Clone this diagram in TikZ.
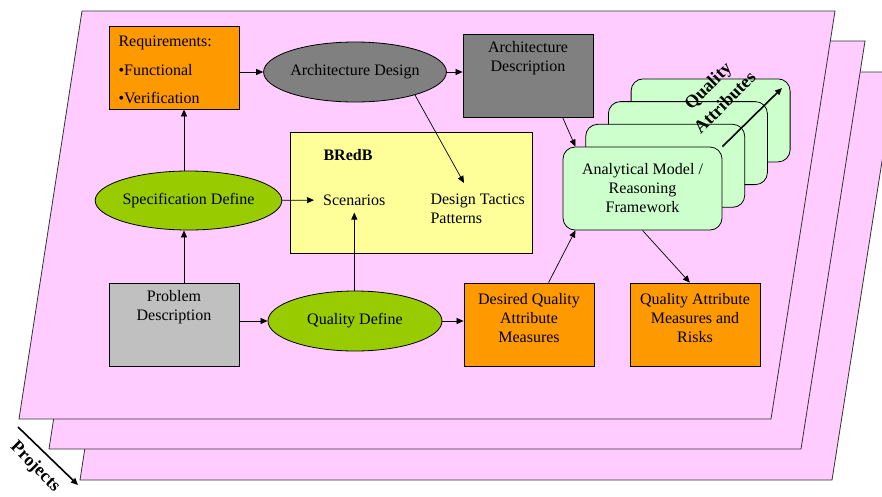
\documentclass[tikz,border=0pt]{standalone}
\usepackage{fontspec}
\setmainfont{Liberation Serif}
\usetikzlibrary{positioning,arrows.meta,shapes.geometric}

\definecolor{pagepink}{HTML}{FFCCFF}
\definecolor{boxorange}{HTML}{FF9900}
\definecolor{archgray}{HTML}{808080}
\definecolor{probgray}{HTML}{C0C0C0}
\definecolor{bredbyellow}{HTML}{FFFF99}
\definecolor{specgreen}{HTML}{99CC00}
\definecolor{cardgreen}{HTML}{CCFFCC}

\begin{document}
\begin{tikzpicture}[x=1pt,y=-1pt,>={Triangle[length=7pt,width=6pt]},
	every node/.style={font=\fontsize{16}{19}\selectfont},
	page/.style={draw=black!80,fill=pagepink,line width=0.8pt},
	plainbox/.style={draw,line width=0.8pt,minimum width=130pt,minimum height=83pt,inner sep=0pt},
	oval/.style={draw,line width=0.8pt,ellipse,minimum width=174pt,minimum height=60pt,inner sep=0pt},
	card/.style={draw,line width=0.8pt,rounded corners=12pt,fill=cardgreen,minimum width=159pt,minimum height=83pt,align=center},
	link/.style={->,line width=0.7pt},
	bigtext/.style={font=\bfseries\fontsize{18}{24}\selectfont,align=center}]
	
	\useasboundingbox (0,0) rectangle (882,496);
	\clip (0,0) rectangle (882,496);
	
	% project pages
	\foreach \d in {61,30,0}
	{
		\draw[page] (82+\d,11+\d) -- (835+\d,11+\d) -- (771+\d,419+\d) -- (19+\d,419+\d) -- cycle;
	}
	
	% stack of analytical models
	\foreach \i in {3,2,1}
	{
		\node[card] (card\i) at (642.5+22.7*\i,188.5-22.7*\i) {};
	}
	\node[card] (anmod) at (642.5,188.5) {Analytical Model /\\Reasoning\\Framework};
	
	\node[plainbox,fill=boxorange] (req) at (174,67.5) {};
	\node[anchor=west,align=left,font=\fontsize{16}{28.7}\selectfont] (reqtext) at (115,70) {Requirements:\\•Functional\\•Verification};
	
	\node[oval,fill=archgray] (archdes) at (355,72) {Architecture Design};
	
	\node[plainbox,fill=archgray] (archdesc) at (528,75.5) {};
	\node[align=center] (archdesctext) at (528,58) {Architecture\\Description};
	
	\node[draw,line width=0.8pt,fill=bredbyellow,minimum width=242pt,minimum height=121pt,inner sep=0pt] (bredb) at (411,192.5) {};
	\node[anchor=west,font=\bfseries\fontsize{16}{19}\selectfont] (bredbtitle) at (320,155) {BRedB};
	\node[anchor=west,inner sep=0pt] (scen) at (323,200) {Scenarios};
	\node[anchor=west,align=left] (dt) at (427,209) {Design Tactics\\Patterns};
	
	\node[oval,fill=specgreen,minimum width=175pt,minimum height=59pt] (specdef) at (188.5,200.5) {Specification Define};
	
	\node[plainbox,fill=probgray] (probdesc) at (174,324.5) {};
	\node[align=center] (probdesctext) at (174,307) {Problem\\Description};
	
	\node[oval,fill=specgreen] (qualdef) at (355,321) {Quality Define};
	
	\node[plainbox,fill=boxorange] (desqam) at (529,324.5) {};
	\node[align=center] (desqamtext) at (529,318) {Desired Quality\\Attribute\\Measures};
	
	\node[plainbox,fill=boxorange] (qamr) at (695,324.5) {};
	\node[align=center] (qamrtext) at (695,318) {Quality Attribute\\Measures and\\Risks};
	
	% free ends
	\coordinate (dttip) at (464,183);
	\coordinate (qatip) at (782,88);
	\coordinate (projstart) at (18,427);
	\coordinate (projtip) at (78,485);
	
	% connectors
	\draw[link] (req.east |- archdes) -- (archdes);
	\draw[link] (archdes) -- (archdes -| archdesc.west);
	\draw[link] ([xshift=-4.5pt]specdef.north) -- ([xshift=-4.5pt]specdef.north |- req.south);
	\draw[link] ([xshift=-4.5pt]specdef.south |- probdesc.north) -- ([xshift=-4.5pt]specdef.south);
	\draw[link,shorten >=9pt] (specdef) -- (scen);
	\draw[link] (probdesc.east |- qualdef) -- (qualdef);
	\draw[link,shorten >=7pt] (qualdef.north -| scen) -- (scen);
	\draw[link] (qualdef) -- (qualdef -| desqam.west);
	\draw[link] (archdes.-21) -- (dttip);
	\draw[link] (archdesc.south -| anmod.west) -- (anmod.148);
	\draw[link] (desqam.65) -- (anmod.-148);
	\draw[link] (anmod.south) -- (qamr.97);
	
	\draw[->,line width=1.6pt] (anmod.north east) -- (qatip);
	\node[bigtext,rotate=45] (qatext) at (716,94) {Quality\\Attributes};
	
	\draw[->,line width=1.6pt] (projstart) -- (projtip);
	\node[bigtext,rotate=-45] (projtext) at (35,467) {Projects};
	
\end{tikzpicture}
\end{document}
